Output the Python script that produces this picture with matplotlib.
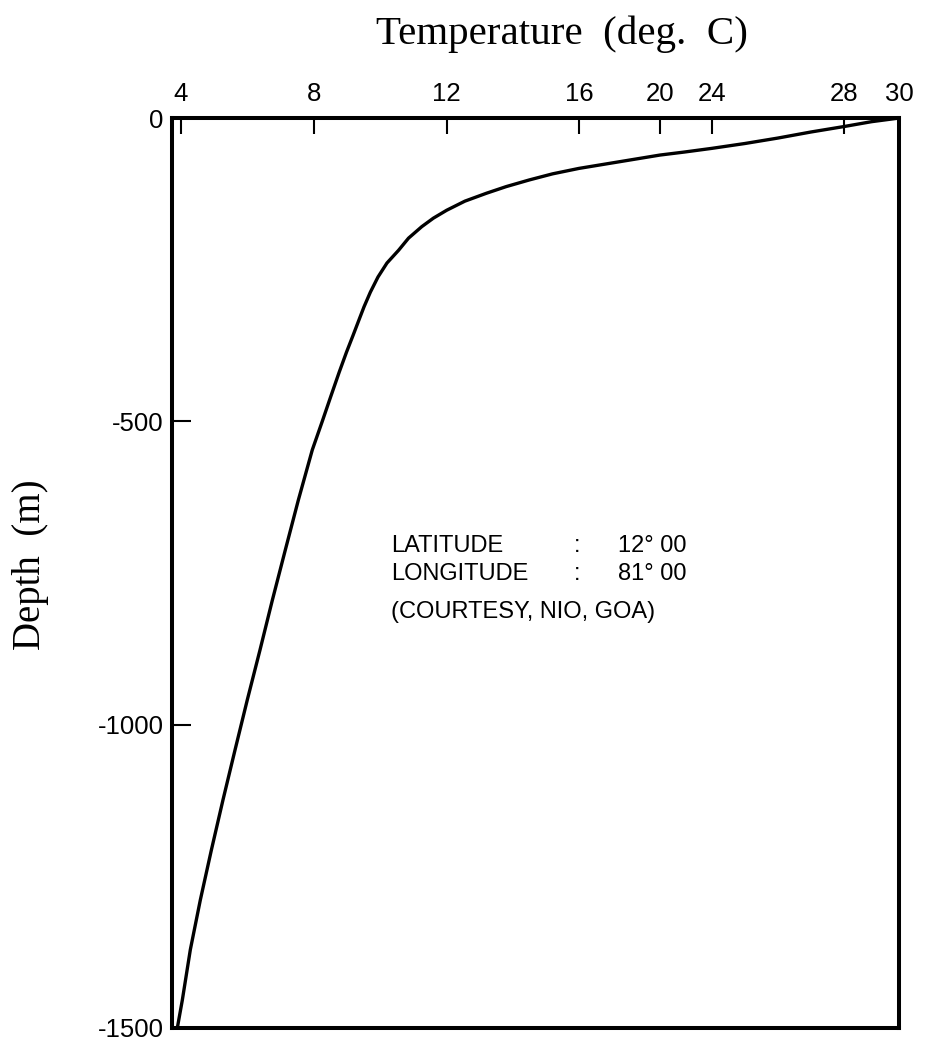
import numpy as np
import matplotlib

matplotlib.use("Agg")
import matplotlib.pyplot as plt

# temperature profile (deg C vs depth in m)
temperature = [30.0, 29.0, 28.0, 27.0, 26.0, 25.0, 24.0, 21.9, 20.0, 18.0,
               16.0, 15.2, 14.5, 13.8, 13.2, 12.55, 12.0, 11.6, 11.25, 10.85,
               10.55, 10.2, 9.93, 9.7, 9.51, 9.39, 9.18, 8.98, 8.76, 8.5,
               8.25, 7.95, 7.53, 7.14, 6.75, 6.38, 6.0, 5.63, 5.27, 4.92,
               4.59, 4.29, 4.05, 3.9]
depth = [0, -6, -14, -23, -33, -42, -50, -56, -61, -72,
         -83, -92, -102, -113, -124, -137, -152, -165, -179, -198,
         -218, -239, -262, -287, -311, -328, -358, -386, -419, -460,
         -500, -547, -630, -712, -795, -877, -959, -1042, -1124, -1207,
         -1289, -1371, -1454, -1500]

temp_ticks = [4, 8, 12, 16, 20, 24, 28, 30]
depth_ticks = [0, -500, -1000, -1500]

# the printed temperature axis is not evenly spaced; map ticks to positions
scale_temps = [3.74, 4, 8, 12, 16, 20, 24, 28, 30]
scale_pos = [172, 180.7, 314, 446.7, 579, 660, 711.7, 844, 899]


def forward(t):
    return np.interp(t, scale_temps, scale_pos)


def inverse(p):
    return np.interp(p, scale_pos, scale_temps)


def main() -> None:
    sans = "Liberation Sans"
    serif = "Liberation Serif"
    fig = plt.figure(figsize=(9.29, 10.41), dpi=100)
    ax = fig.add_axes([0.1851, 0.0125, 0.7826, 0.8741])
    ax.set_xscale("function", functions=(forward, inverse))
    ax.plot(temperature, depth, color="black", linewidth=2.4,
            solid_capstyle="round", solid_joinstyle="round")
    ax.set_xlim(3.74, 30)
    ax.set_ylim(-1500, 0)

    ax.xaxis.tick_top()
    ax.set_xticks(temp_ticks)
    ax.set_xticklabels([str(t) for t in temp_ticks], fontfamily=sans, fontsize=18.5)
    ax.set_yticks(depth_ticks)
    ax.set_yticklabels([str(d) for d in depth_ticks], fontfamily=sans, fontsize=18.5)
    ax.xaxis.set_minor_locator(matplotlib.ticker.NullLocator())
    ax.tick_params(axis="x", direction="in", length=11.5, width=1.5, pad=9)
    ax.tick_params(axis="y", direction="in", length=14, width=1.5, pad=6)
    for spine in ax.spines.values():
        spine.set_linewidth(2.9)

    fig.text(0.605, 0.967, "Temperature  (deg.  C)", fontfamily=serif,
             fontsize=29.5, ha="center", va="center")
    fig.text(0.033, 1 - 565 / 1041, "Depth  (m)", fontfamily=serif, fontsize=28,
             rotation=90, ha="center", va="center")

    rows = [("LATITUDE", ":", "12° 00", 546), ("LONGITUDE", ":", "81° 00", 574)]
    for name, sep, value, ypix in rows:
        y = 1 - ypix / 1041
        fig.text(391 / 929, y, name, fontfamily=sans, fontsize=17, va="center")
        fig.text(577 / 929, y, sep, fontfamily=sans, fontsize=17, va="center", ha="center")
        fig.text(618 / 929, y, value, fontfamily=sans, fontsize=17, va="center")
    fig.text(391 / 929, 1 - 612 / 1041, "(COURTESY, NIO, GOA)", fontfamily=sans,
             fontsize=17, va="center")

    fig.savefig("out.png", dpi=100, facecolor="white")
    plt.close(fig)


if __name__ == "__main__":
    main()
